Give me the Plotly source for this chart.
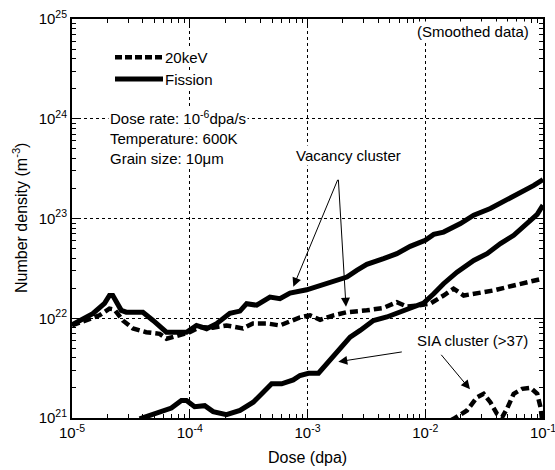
import plotly.graph_objects as go

# ---------------- data ----------------
fis_vac_dose = [1.0e-5, 1.5e-5, 1.89e-5, 2.08e-5, 2.22e-5, 2.62e-5, 2.89e-5, 4.0e-5, 4.88e-5,
                6.34e-5, 7.71e-5, 9.38e-5, 1.14e-4, 1.39e-4, 1.69e-4, 2.19e-4, 2.67e-4, 3.04e-4,
                3.70e-4, 4.80e-4, 5.83e-4, 7.10e-4, 9.84e-4, 1.36e-3, 1.89e-3, 2.16e-3, 2.62e-3,
                3.19e-3, 4.42e-3, 5.74e-3, 7.45e-3, 1.0e-2, 1.18e-2, 1.43e-2, 1.99e-2, 2.58e-2,
                3.57e-2, 4.95e-2, 6.87e-2, 8.36e-2, 1.0e-1]
fis_vac_dens = [8.6e21, 1.11e22, 1.41e22, 1.69e22, 1.69e22, 1.20e22, 1.15e22, 1.15e22, 9.5e21,
                7.24e21, 7.24e21, 7.24e21, 8.47e21, 7.85e21, 8.81e21, 1.12e22, 1.18e22, 1.40e22,
                1.35e22, 1.63e22, 1.57e22, 1.79e22, 1.93e22, 2.18e22, 2.44e22, 2.59e22, 3.02e22,
                3.47e22, 3.96e22, 4.44e22, 5.26e22, 6.04e22, 6.93e22, 7.31e22, 8.89e22, 1.08e23,
                1.26e23, 1.55e23, 1.85e23, 2.15e23, 2.46e23]

kev_vac_dose = [1.0e-5, 1.32e-5, 1.71e-5, 2.08e-5, 2.30e-5, 2.70e-5, 3.29e-5, 4.27e-5, 5.55e-5,
                6.34e-5, 7.71e-5, 1.0e-4, 1.22e-4, 1.57e-4, 2.05e-4, 2.57e-4, 2.83e-4, 3.44e-4,
                4.52e-4, 5.83e-4, 8.63e-4, 1.05e-3, 1.28e-3, 1.66e-3, 2.16e-3, 3.19e-3, 4.42e-3,
                5.74e-3, 6.98e-3, 8.49e-3, 1.10e-2, 1.43e-2, 1.74e-2, 2.12e-2, 2.75e-2, 3.81e-2,
                5.64e-2, 8.93e-2, 1.0e-1]
kev_vac_dens = [8.47e21, 9.5e21, 1.07e22, 1.25e22, 1.22e22, 9.5e21, 7.9e21, 7.24e21, 6.98e21,
                6.23e21, 6.72e21, 7.24e21, 8.15e21, 8.04e21, 8.47e21, 8.15e21, 7.9e21, 8.87e21,
                8.87e21, 8.47e21, 1.02e22, 1.07e22, 9.66e21, 1.07e22, 1.15e22, 1.20e22, 1.27e22,
                1.45e22, 1.31e22, 1.34e22, 1.40e22, 1.69e22, 1.98e22, 1.69e22, 1.76e22, 1.90e22,
                2.13e22, 2.44e22, 2.5e22]

fis_sia_dose = [3.75e-5, 5.55e-5, 6.98e-5, 8.49e-5, 9.38e-5, 1.10e-4, 1.34e-4, 1.58e-4, 2.05e-4,
                2.67e-4, 3.46e-4, 4.21e-4, 4.96e-4, 6.03e-4, 7.57e-4, 8.63e-4, 1.02e-3, 1.24e-3,
                1.55e-3, 1.89e-3, 2.30e-3, 2.80e-3, 3.63e-3, 4.72e-3, 6.12e-3, 7.95e-3, 9.68e-3,
                1.18e-2, 1.43e-2, 1.86e-2, 2.58e-2, 3.35e-2, 4.35e-2, 5.64e-2, 7.34e-2, 8.93e-2,
                1.0e-1]
fis_sia_dens = [9.8e20, 1.14e21, 1.26e21, 1.50e21, 1.50e21, 1.30e21, 1.33e21, 1.16e21, 1.08e21,
                1.19e21, 1.44e21, 1.81e21, 2.20e21, 2.20e21, 2.41e21, 2.67e21, 2.81e21, 2.81e21,
                3.77e21, 4.94e21, 6.46e21, 7.55e21, 9.5e21, 1.03e22, 1.15e22, 1.31e22, 1.42e22,
                1.76e22, 2.22e22, 2.90e22, 3.80e22, 4.44e22, 5.60e22, 6.78e22, 8.89e22, 1.10e23,
                1.36e23]

kev_sia_dose = [1.34e-2, 1.74e-2, 2.26e-2, 2.75e-2, 3.13e-2, 3.57e-2, 4.07e-2, 4.50e-2, 4.95e-2,
                5.64e-2, 6.65e-2, 7.83e-2, 8.93e-2, 9.53e-2, 9.8e-2]
kev_sia_dens = [8.4e20, 9.8e20, 1.19e21, 1.61e21, 1.75e21, 1.44e21, 1.10e21, 1.02e21, 1.24e21,
                1.75e21, 1.96e21, 2.01e21, 1.75e21, 1.28e21, 9.9e20]

x_tick_vals = [1e-5, 1e-4, 1e-3, 1e-2, 1e-1]
x_tick_text = ["10<sup>-5</sup>", "10<sup>-4</sup>", "10<sup>-3</sup>", "10<sup>-2</sup>", "10<sup>-1</sup>"]
y_tick_vals = [1e21, 1e22, 1e23, 1e24, 1e25]
y_tick_text = ["10<sup>21</sup>", "10<sup>22</sup>", "10<sup>23</sup>", "10<sup>24</sup>", "10<sup>25</sup>"]

FONT = "Liberation Sans, Arial, sans-serif"
SOLID_W = 5
DASH_W = 4.5
DASH = "8px,4px"

fig = go.Figure()
fig.add_trace(go.Scatter(x=fis_vac_dose, y=fis_vac_dens, mode="lines", name="Fission",
                         line=dict(color="black", width=SOLID_W), showlegend=False))
fig.add_trace(go.Scatter(x=fis_sia_dose, y=fis_sia_dens, mode="lines", name="Fission",
                         line=dict(color="black", width=SOLID_W), showlegend=False))
fig.add_trace(go.Scatter(x=kev_vac_dose, y=kev_vac_dens, mode="lines", name="20keV",
                         line=dict(color="black", width=DASH_W, dash=DASH), showlegend=False))
fig.add_trace(go.Scatter(x=kev_sia_dose, y=kev_sia_dens, mode="lines", name="20keV",
                         line=dict(color="black", width=DASH_W, dash=DASH), showlegend=False))

# plot area geometry in pixels
L, R, T, B = 72, 543, 19, 418
W, H = R - L, B - T

def px(xp):
    return (xp - L) / W

def py(yp):
    return 1 - (yp - T) / H

def lx(xp):
    return -5 + (xp - L) / W * 4

def ly(yp):
    return 25 - (yp - T) / H * 4

shapes = [
    dict(type="rect", xref="paper", yref="paper", x0=px(112), x1=px(220), y0=py(94), y1=py(44),
         fillcolor="white", line=dict(width=0), layer="below"),
    dict(type="line", xref="paper", yref="paper", x0=px(115), x1=px(163), y0=py(57.3), y1=py(57.3),
         line=dict(color="black", width=DASH_W, dash="7px,3px")),
    dict(type="line", xref="paper", yref="paper", x0=px(115), x1=px(163), y0=py(79), y1=py(79),
         line=dict(color="black", width=SOLID_W)),
]

tf = dict(family=FONT, size=15, color="black")
annotations = [
    dict(text="20keV", xref="paper", yref="paper", x=px(164), y=py(57.3), xanchor="left",
         yanchor="middle", showarrow=False, font=tf, bgcolor="white", borderpad=0),
    dict(text="Fission", xref="paper", yref="paper", x=px(164), y=py(79), xanchor="left",
         yanchor="middle", showarrow=False, font=tf, bgcolor="white", borderpad=0),
    dict(text="Dose rate: 10<sup>-6</sup>dpa/s", xref="paper", yref="paper", x=px(108), y=py(117.3),
         xanchor="left", yanchor="middle", showarrow=False, font=tf, bgcolor="white", borderpad=1),
    dict(text="Temperature: 600K", xref="paper", yref="paper", x=px(108), y=py(138),
         xanchor="left", yanchor="middle", showarrow=False, font=tf, bgcolor="white", borderpad=1),
    dict(text="Grain size: 10μm", xref="paper", yref="paper", x=px(108), y=py(158.5),
         xanchor="left", yanchor="middle", showarrow=False, font=tf, bgcolor="white", borderpad=1),
    dict(text="(Smoothed data)", xref="paper", yref="paper", x=px(531), y=py(32),
         xanchor="right", yanchor="middle", showarrow=False, font=tf, bgcolor="white", borderpad=1),
    dict(text="Vacancy cluster", xref="paper", yref="paper", x=px(348), y=py(155),
         xanchor="center", yanchor="middle", showarrow=False, font=tf, bgcolor="white", borderpad=1),
    dict(text="SIA cluster (>37)", xref="paper", yref="paper", x=px(472), y=py(340),
         xanchor="center", yanchor="middle", showarrow=False, font=tf, bgcolor="white", borderpad=1),
    # axis titles
    dict(text="Dose (dpa)", xref="paper", yref="paper", x=px(307.5), y=py(457),
         xanchor="center", yanchor="middle", showarrow=False, font=dict(family=FONT, size=16, color="black")),
    dict(text="Number density (m<sup>-3</sup>)", xref="paper", yref="paper", x=px(20), y=py(218),
         xanchor="center", yanchor="middle", showarrow=False, textangle=-90,
         font=dict(family=FONT, size=16, color="black")),
]

def arrow(tail, head):
    return dict(x=lx(head[0]), y=ly(head[1]), ax=lx(tail[0]), ay=ly(tail[1]),
                xref="x", yref="y", axref="x", ayref="y", text="", showarrow=True,
                arrowhead=2, arrowsize=1.8, arrowwidth=1, arrowcolor="black", standoff=0)

annotations += [
    arrow((338.3, 178.3), (293.3, 286.7)),
    arrow((338.3, 178.3), (346.0, 306.7)),
    arrow((403.3, 351.7), (338.3, 361.7)),
    arrow((440.0, 353.3), (470.0, 389.3)),
]

x_minor = [m * 10.0 ** e for e in range(-5, -1) for m in range(2, 10)]
y_minor = [m * 10.0 ** e for e in range(21, 25) for m in range(2, 10)]

axis_common = dict(
    type="log", showline=True, linecolor="black", linewidth=2, mirror="allticks",
    ticks="inside", ticklen=7, tickwidth=1, tickcolor="black",
    showgrid=True, gridcolor="black", gridwidth=1, griddash="dot",
    zeroline=False, automargin=False, ticklabeloverflow="allow",
    tickfont=dict(family=FONT, size=15, color="black"),
)

fig.update_layout(
    width=555, height=470,
    margin=dict(l=L, r=555 - R, t=T, b=470 - B, pad=0),
    paper_bgcolor="white", plot_bgcolor="white",
    font=dict(family=FONT, size=15, color="black"),
    xaxis=dict(**axis_common, range=[-5, -1], tickmode="array", tickvals=x_tick_vals,
               ticktext=x_tick_text,
               minor=dict(tickmode="array", tickvals=x_minor, ticks="inside", ticklen=4,
                          tickwidth=1, tickcolor="black", showgrid=False)),
    yaxis=dict(**axis_common, range=[21, 25], tickmode="array", tickvals=y_tick_vals,
               ticktext=y_tick_text,
               minor=dict(tickmode="array", tickvals=y_minor, ticks="inside", ticklen=4,
                          tickwidth=1, tickcolor="black", showgrid=False)),
    shapes=shapes,
    annotations=annotations,
    showlegend=False,
)

fig.write_html("out.html")
